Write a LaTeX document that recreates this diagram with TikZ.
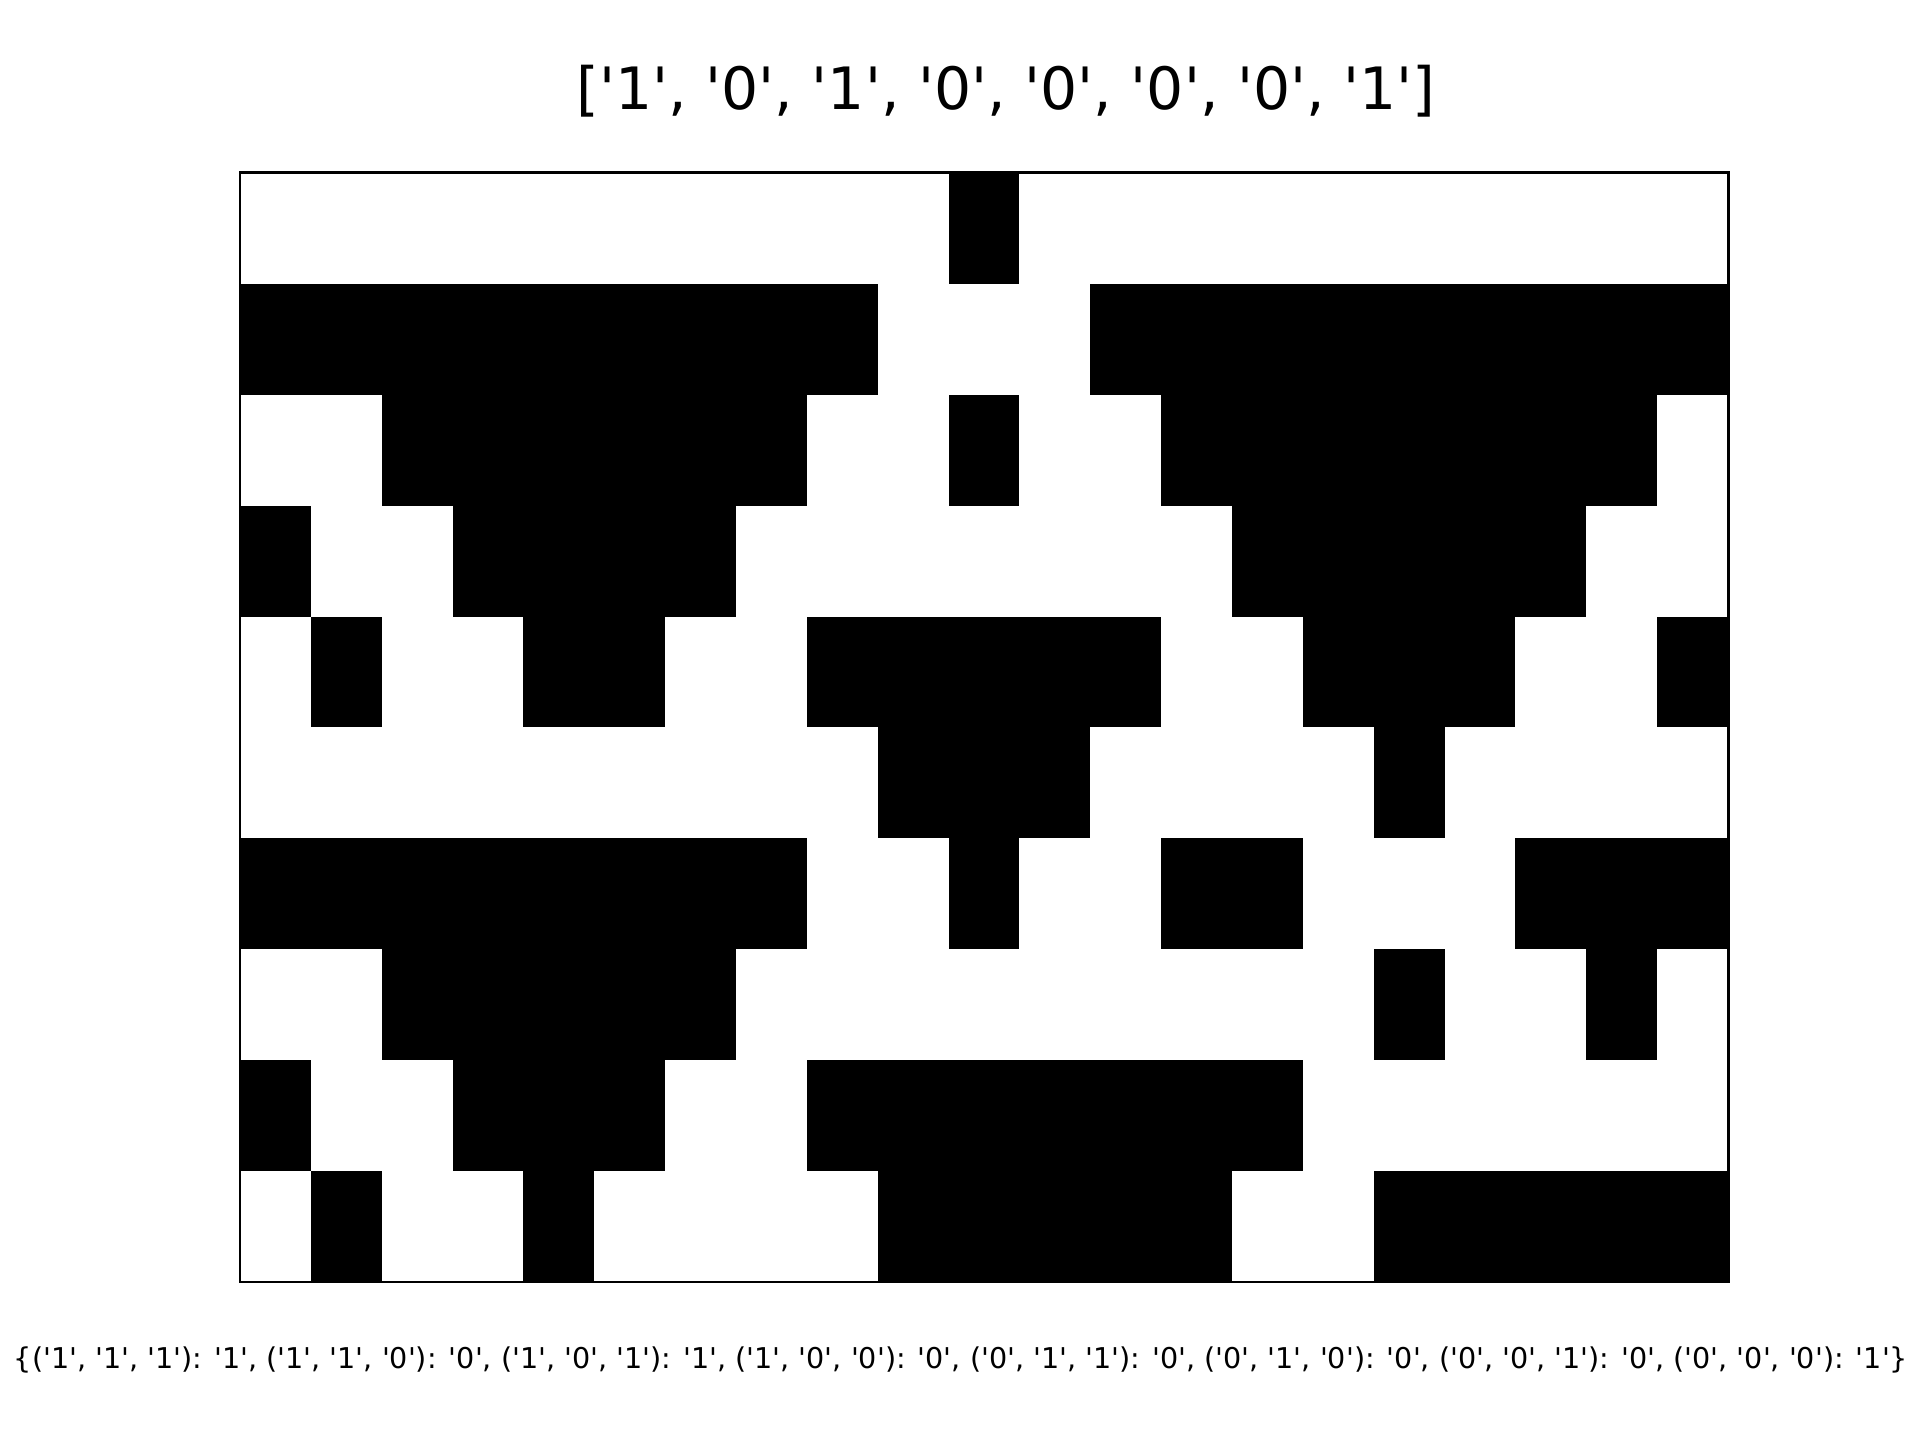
\documentclass[tikz,border=0pt]{standalone}
\usepackage{fontspec}
\setmainfont{DejaVu Sans}[Ligatures=TeXOff]
\usepackage{tikz}
\usetikzlibrary{positioning}
\definecolor{cellon}{HTML}{000000}
\definecolor{frame}{HTML}{000000}

\begin{document}
\begin{tikzpicture}[x=0.01cm,y=-0.01cm]
\useasboundingbox (0,0) rectangle (1920,1440);
\def\cw{70.857}
\def\rh{110.9}
% black cells, one list of column runs per row
\foreach \r/\segs in {0/{10/10}, 1/{0/8,12/20}, 2/{2/7,10/10,13/19}, 3/{0/0,3/6,14/18}, 4/{1/1,4/5,8/12,15/17,20/20}, 5/{9/11,16/16}, 6/{0/7,10/10,13/14,18/20}, 7/{2/6,16/16,19/19}, 8/{0/0,3/5,8/14}, 9/{1/1,4/4,9/13,16/20}}{
  \foreach \a/\b in \segs
    \fill[cellon] ({240+\a*\cw},{173+\r*\rh}) rectangle ({240+(\b+1)*\cw},{173+(\r+1)*\rh});
}
\draw[frame, line width=0.85pt] (240,173) rectangle (1728,1282);
\node[anchor=base, inner sep=0pt, font=\fontsize{16.6}{20}\selectfont] (title) at (1006,110) {['1', '0', '1', '0', '0', '0', '0', '1']};
\node[anchor=base, inner sep=0pt, font=\fontsize{8.14}{10}\selectfont] (rule) at (961,1369) {\{('1', '1', '1'): '1', ('1', '1', '0'): '0', ('1', '0', '1'): '1', ('1', '0', '0'): '0', ('0', '1', '1'): '0', ('0', '1', '0'): '0', ('0', '0', '1'): '0', ('0', '0', '0'): '1'\}};
\end{tikzpicture}
\end{document}
